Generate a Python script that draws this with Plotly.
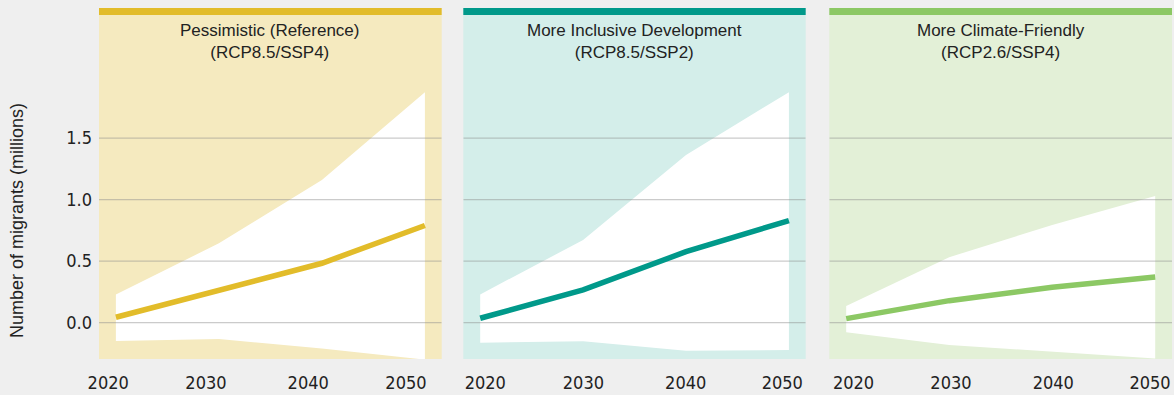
import plotly.graph_objects as go

# ---- data ----
years = [2020, 2030, 2040, 2050]
titles = ["Pessimistic (Reference)<br>(RCP8.5/SSP4)",
          "More Inclusive Development<br>(RCP8.5/SSP2)",
          "More Climate-Friendly<br>(RCP2.6/SSP4)"]
pess_mid = [0.044, 0.26, 0.483, 0.79]
pess_hi = [0.23, 0.645, 1.16, 1.873]
pess_lo = [-0.149, -0.133, -0.21, -0.30]
incl_mid = [0.036, 0.266, 0.577, 0.83]
incl_hi = [0.23, 0.672, 1.363, 1.873]
incl_lo = [-0.163, -0.151, -0.228, -0.222]
clim_mid = [0.033, 0.179, 0.288, 0.372]
clim_hi = [0.136, 0.532, 0.794, 1.03]
clim_lo = [-0.078, -0.181, -0.235, -0.29]
y_ticks = [0.0, 0.5, 1.0, 1.5]
x_tick_text = ["2020", "2030", "2040", "2050"]
y_title = "Number of migrants (millions)"

# ---- style ----
W, H = 1174, 395
page_bg = "#EFEFEF"
bg_cols = ["#F5EABF", "#D4EEEA", "#E3F0D7"]
main_cols = ["#E2BC2A", "#00998A", "#8CC864"]
x_range = [2018.36, 2051.63]
y_range = [-0.295, 2.5]
tick_pos = [[2019.25, 2028.74, 2038.67, 2048.16],
            [2020.49, 2030.03, 2039.97, 2049.35],
            [2020.71, 2030.17, 2040.1, 2049.5]]
domains = [[99 / W, 441.7 / W], [463.3 / W, 805.7 / W], [829.3 / W, 1172 / W]]
y_dom = [1 - 359 / H, 1 - 15 / H]
tick_font = dict(family="Liberation Sans Narrow, Arial Narrow, DejaVu Sans Condensed, Liberation Sans, sans-serif",
                 size=18, color="#222222")

series = [(pess_mid, pess_hi, pess_lo), (incl_mid, incl_hi, incl_lo), (clim_mid, clim_hi, clim_lo)]

fig = go.Figure()
for i, (mid, hi, lo) in enumerate(series):
    xa = "x" if i == 0 else f"x{i+1}"
    ya = "y" if i == 0 else f"y{i+1}"
    fig.add_trace(go.Scatter(
        x=years + years[::-1], y=hi + lo[::-1], fill="toself",
        fillcolor="#FFFFFF", line=dict(width=0, color="#FFFFFF"),
        mode="lines", hoverinfo="skip", showlegend=False, xaxis=xa, yaxis=ya))
    gx, gy = [], []
    for t in y_ticks:
        gx += [x_range[0], x_range[1], None]
        gy += [t, t, None]
    fig.add_trace(go.Scatter(
        x=gx, y=gy, mode="lines", line=dict(color="rgba(140,140,140,0.45)", width=1.3),
        hoverinfo="skip", showlegend=False, xaxis=xa, yaxis=ya))
    fig.add_trace(go.Scatter(
        x=years, y=mid, mode="lines", line=dict(color=main_cols[i], width=5.5),
        showlegend=False, xaxis=xa, yaxis=ya))

layout = dict(
    width=W, height=H,
    margin=dict(l=0, r=0, t=0, b=0, pad=0, autoexpand=False),
    paper_bgcolor=page_bg,
    plot_bgcolor="rgba(0,0,0,0)",
    showlegend=False,
    font=dict(family="Liberation Sans, Arial, sans-serif", color="#222222"),
)
shapes = []
annotations = []
for i in range(3):
    sx = "" if i == 0 else str(i + 1)
    layout["xaxis" + sx] = dict(
        domain=domains[i], range=x_range, showgrid=False, zeroline=False,
        tickmode="array", tickvals=tick_pos[i], ticktext=x_tick_text,
        ticks="", showline=False, ticklabelstandoff=11, automargin=False,
        tickfont=tick_font, anchor="y" + sx, fixedrange=True)
    layout["yaxis" + sx] = dict(
        domain=y_dom, range=y_range, showgrid=False, zeroline=False,
        tickmode="array", tickvals=y_ticks, ticktext=[f"{v:.1f}" for v in y_ticks],
        showticklabels=(i == 0), ticks="", ticklabelstandoff=6, automargin=False,
        tickfont=tick_font, anchor="x" + sx, fixedrange=True)
    shapes.append(dict(type="rect", xref=f"x{sx} domain", yref=f"y{sx} domain",
                       x0=0, x1=1, y0=0, y1=1, fillcolor=bg_cols[i],
                       line=dict(width=0), layer="below"))
    shapes.append(dict(type="rect", xref=f"x{sx} domain", yref="paper",
                       x0=0, x1=1, y0=1 - 15 / H, y1=1 - 8 / H, fillcolor=main_cols[i],
                       line=dict(width=0), layer="above"))
    annotations.append(dict(text=titles[i], xref=f"x{sx} domain", yref="paper",
                            x=0.5, y=1 - 41 / H, xanchor="center", yanchor="middle",
                            showarrow=False, align="center",
                            font=dict(size=17, color="#222222",
                                      family="Liberation Sans, Arial, sans-serif")))
annotations.append(dict(text=y_title, xref="paper", yref="paper", x=17 / W, y=1 - 221 / H,
                        xanchor="center", yanchor="middle", textangle=-90, showarrow=False,
                        font=dict(size=18, color="#222222",
                                  family="Liberation Sans, Arial, sans-serif")))
layout["shapes"] = shapes
layout["annotations"] = annotations
fig.update_layout(**layout)
fig.write_html("out.html", config={"displayModeBar": False},
               post_script="document.body.style.margin='0';document.body.style.background='#EFEFEF';")
